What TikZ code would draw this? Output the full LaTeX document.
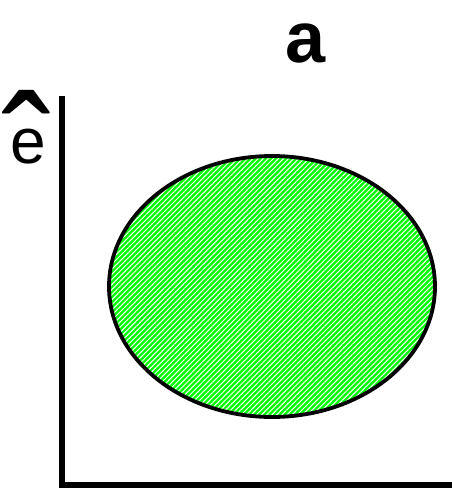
\documentclass[tikz,border=0pt]{standalone}
\usepackage{fontspec}
\setmainfont{Liberation Sans}
\usetikzlibrary{shapes.geometric,patterns.meta}
\definecolor{hatchgreen}{RGB}{0,250,0}
\tikzset{
  axisline/.style={line width=6.5pt, line join=miter},
  blob/.style={ellipse, draw=black, line width=3.8pt, minimum width=326pt, minimum height=261pt, inner sep=0pt,
    preaction={fill=hatchgreen}, pattern={Lines[angle=45,distance=3.6pt,line width=1pt]}, pattern color=white},
  lbl/.style={inner sep=0pt, anchor=base}
}
\begin{document}
\begin{tikzpicture}[x=1pt,y=-1pt]
\useasboundingbox (0,0) rectangle (452,488);
\coordinate (top) at (62,96);
\coordinate (origin) at (62,485);
\coordinate (right) at (455,485);
\draw[axisline] (top) -- (origin) -- (right);
\node[blob] (region) at (272,286.5) {};
\node[lbl, font=\fontsize{72}{72}\selectfont\bfseries] (title) at (306,62) {a};
\node[lbl, font=\fontsize{64}{64}\selectfont] (e) at (28.5,163) {e};
\node[lbl, font=\fontsize{64}{64}\selectfont, xscale=2.3, yscale=2.6] (hat) at (27,211) {ˆ};
\end{tikzpicture}
\end{document}
